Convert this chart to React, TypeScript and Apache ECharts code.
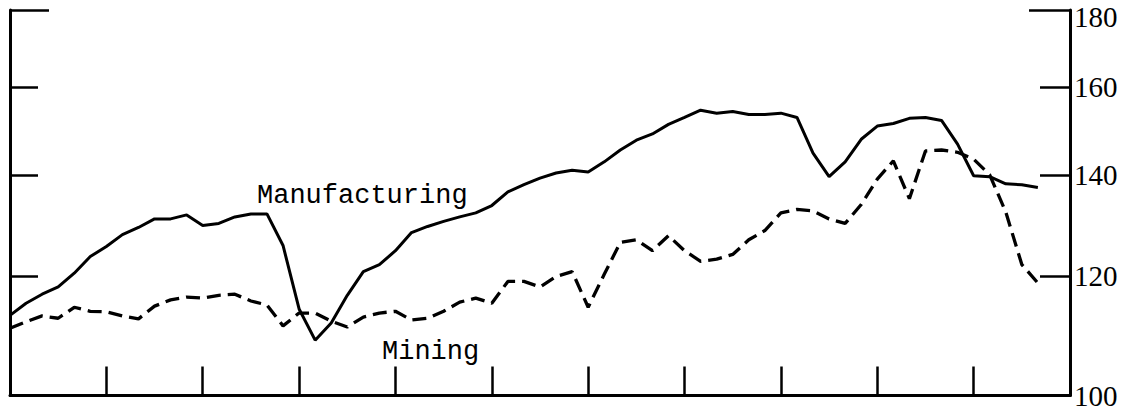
import React, { useEffect, useRef } from "react";
import * as echarts from "echarts";

// Index values, read every two months (step of 1/6 year) from the start of the period
const stepYears = 1 / 6;
const manufacturing = [
  113.0, 115.1, 116.7, 118.0, 120.5, 123.6, 125.5, 127.8, 129.2, 130.9,
  130.9, 131.7, 129.6, 130.0, 131.3, 131.9, 131.9, 125.7, 114.1, 108.8,
  111.7, 116.5, 120.8, 122.1, 124.7, 128.2, 129.4, 130.4, 131.3, 132.1,
  133.6, 136.4, 137.9, 139.3, 140.4, 141.0, 140.6, 142.8, 145.4, 147.6,
  149.0, 151.2, 152.8, 154.5, 153.8, 154.2, 153.5, 153.5, 153.8, 152.8,
  144.7, 139.6, 142.8, 147.8, 150.8, 151.4, 152.6, 152.8, 152.1, 146.7,
  139.8, 139.6, 138.1, 137.9, 137.3,
];
const mining = [
  110.8, 111.9, 112.9, 112.5, 114.4, 113.7, 113.6, 112.9, 112.4, 114.6,
  115.7, 116.2, 116.0, 116.5, 116.7, 115.5, 114.8, 111.2, 113.4, 113.4,
  112.0, 111.0, 112.7, 113.4, 113.7, 112.2, 112.5, 113.7, 115.3, 116.0,
  115.1, 119.0, 119.0, 118.0, 119.9, 120.8, 114.4, 120.3, 126.3, 126.8,
  124.7, 127.6, 124.7, 122.7, 123.1, 124.0, 126.8, 128.6, 132.1, 132.8,
  132.5, 130.9, 130.0, 133.8, 139.1, 143.0, 135.0, 145.2, 145.4, 144.9,
  143.4, 140.0, 132.3, 122.1, 118.7,
];
const yLabelValues = [100, 120, 140, 160, 180];
const yInnerTicks = [120, 140, 160];
const yTopTick = [180];
const xYears = 11;

export default function App() {
  const ref = useRef<HTMLDivElement>(null);
  useEffect(() => {
    const chart = echarts.init(ref.current!, null, { renderer: "svg" });
    const toPoints = (arr: number[]) => arr.map((v, i) => [i * stepYears, v]);
    const baseY = (extra: any) => ({
      type: "log",
      logBase: 10,
      min: 100,
      max: 180,
      splitLine: { show: false },
      minorTick: { show: false },
      ...extra,
    });
    chart.setOption({
      animation: false,
      backgroundColor: "#fff",
      grid: { left: 10, right: 59, top: 10, bottom: 12, containLabel: false },
      xAxis: {
        type: "value",
        min: 0,
        max: xYears,
        interval: 1,
        axisLine: { show: true, onZero: false, lineStyle: { color: "#000", width: 3 } },
        axisTick: { show: true, inside: true, length: 29, lineStyle: { color: "#000", width: 2.5 } },
        axisLabel: { show: false },
        splitLine: { show: false },
      },
      yAxis: [
        baseY({
          position: "left",
          axisLine: { show: true, lineStyle: { color: "#000", width: 3 } },
          axisTick: { show: true, inside: true, length: 28, customValues: yInnerTicks, lineStyle: { color: "#000", width: 2.5 } },
          axisLabel: { show: false },
        }),
        baseY({
          position: "left",
          axisLine: { show: false },
          axisTick: { show: true, inside: true, length: 39, customValues: yTopTick, lineStyle: { color: "#000", width: 2.5 } },
          axisLabel: { show: false },
        }),
        baseY({
          position: "right",
          axisLine: { show: true, lineStyle: { color: "#000", width: 3 } },
          axisTick: { show: true, inside: true, length: 30, customValues: yInnerTicks, lineStyle: { color: "#000", width: 2.5 } },
          axisLabel: {
            show: true,
            customValues: yLabelValues,
            margin: 4,
            color: "#000",
            fontSize: 29,
            fontFamily: "Liberation Serif",
            formatter: (v: number) => {
              const r = Math.round(v);
              return r === 180 ? `{t|${r}}` : `{n|${r}}`;
            },
            rich: {
              t: { fontSize: 29, fontFamily: "Liberation Serif", color: "#000", padding: [14, 0, 0, 0] },
              n: { fontSize: 29, fontFamily: "Liberation Serif", color: "#000" },
            },
          },
        }),
        baseY({
          position: "right",
          axisLine: { show: false },
          axisTick: { show: true, inside: true, length: 41, customValues: yTopTick, lineStyle: { color: "#000", width: 2.5 } },
          axisLabel: { show: false },
        }),
      ],
      series: [
        {
          name: "Manufacturing",
          type: "line",
          yAxisIndex: 0,
          data: toPoints(manufacturing),
          showSymbol: false,
          lineStyle: { color: "#000", width: 3 },
        },
        {
          name: "Mining",
          type: "line",
          yAxisIndex: 0,
          data: toPoints(mining),
          showSymbol: false,
          lineStyle: { color: "#000", width: 3.3, type: [14, 7] },
        },
      ],
      graphic: [
        {
          type: "text",
          style: {
            text: "Manufacturing",
            x: 257,
            y: 196,
            verticalAlign: "middle",
            font: '27px "Liberation Mono"',
            fill: "#000",
          },
        },
        {
          type: "text",
          style: {
            text: "Mining",
            x: 382,
            y: 352,
            verticalAlign: "middle",
            font: '27px "Liberation Mono"',
            fill: "#000",
          },
        },
      ],
    });
    return () => chart.dispose();
  }, []);
  return (
    <div
      ref={ref}
      style={{ position: "fixed", left: 0, top: 0, width: 1129, height: 410 }}
    />
  );
}
